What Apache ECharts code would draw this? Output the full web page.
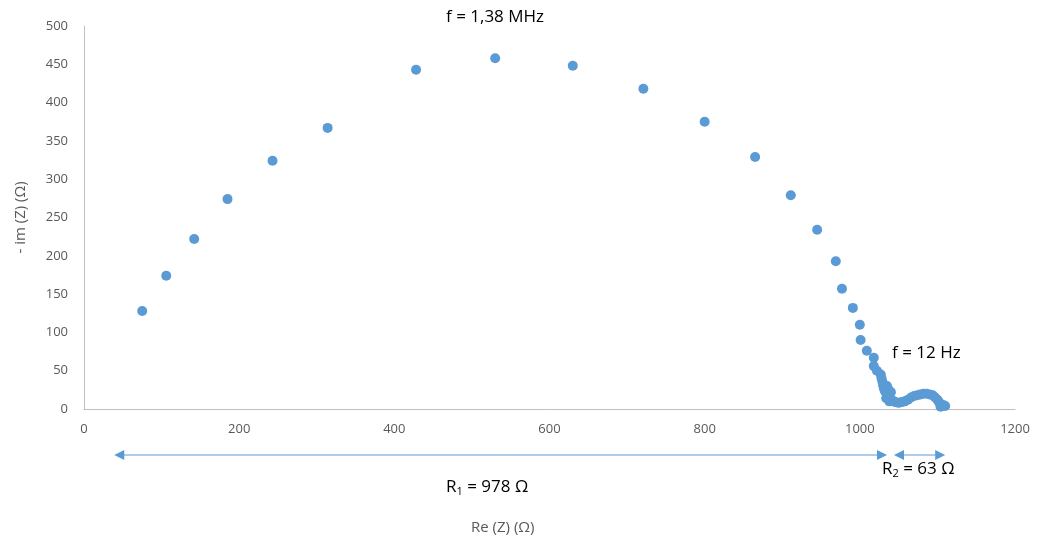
<!DOCTYPE html>
<html><head><meta charset="utf-8">
<script src="https://cdn.jsdelivr.net/npm/echarts@6/dist/echarts.min.js"></script>
<style>html,body{margin:0;padding:0;background:#fff}#c{width:1037px;height:545px}</style>
</head><body><div id="c"></div>
<script>
// Re(Z) values (Ω)
const reZ = [75,106,142,185,243,314,428,530,630,721,800,865,911,945,969,977,991,1000,1001,1009,1018,1018,
  1022,1027,1028,1029,1030,1031,1032,1034,1035,1037,1036,1038,1040,1034,1038,1041,1043,1046,1050,1054,1058,1062,
  1066,1070,1074,1078,1082,1086,1090,1094,1097,1100,1102,1105,1108,1104,1110];
// -Im(Z) values (Ω)
const imZ = [128,174,222,274,324,367,443,458,448,418,375,329,279,234,193,157,132,110,90,76,67,56,
  50,45,40,36,31,27,24,21,30,25,18,15,22,14,10,12,10,9,8,9,10,12,
  15,17,18,19,20,20,19,18,15,12,9,6,5,3,4];
const xTicks = {min:0, max:1200, interval:200};
const yTicks = {min:0, max:500, interval:50};
const r1Range = [39, 1035];
const r2Range = [1044, 1110];
const labels = {high:'f = 1,38 MHz', low:'f = 12 Hz', r1:'978 Ω', r2:'63 Ω', xName:'Re (Z) (Ω)', yName:'- im (Z) (Ω)'};

const FONT = "'Open Sans', 'Noto Sans', sans-serif";
const blue = '#5B9BD5';
const chart = echarts.init(document.getElementById('c'));
const pts = reZ.map((x,i)=>[x, imZ[i]]);
chart.setOption({
  animation:false,
  grid:{left:84, right:22, top:26, bottom:136},
  xAxis:{type:'value', min:xTicks.min, max:xTicks.max, interval:xTicks.interval,
    axisLine:{show:true, lineStyle:{color:'#BFBFBF', width:1}}, axisTick:{show:false}, splitLine:{show:false},
    axisLabel:{color:'#595959', fontSize:13, fontFamily:FONT, margin:14, formatter:v=>String(v)}},
  yAxis:{type:'value', min:yTicks.min, max:yTicks.max, interval:yTicks.interval,
    axisLine:{show:true, lineStyle:{color:'#BFBFBF', width:1}}, axisTick:{show:false}, splitLine:{show:false},
    axisLabel:{color:'#595959', fontSize:13, fontFamily:FONT, margin:16, formatter:v=>String(v)},
    name:labels.yName, nameLocation:'middle', nameGap:56, nameTextStyle:{color:'#595959', fontSize:15, fontFamily:FONT}},
  series:[{type:'scatter', data:pts, symbolSize:10, itemStyle:{color:blue, opacity:1}}]
});

function px(x){ return chart.convertToPixel({gridIndex:0},[x,0])[0]; }
const ay = 455;
function arrow(x1,x2){
  const a = px(x1), b = px(x2);
  return [
    {type:'line', shape:{x1:a+6,y1:ay,x2:b-6,y2:ay}, style:{stroke:blue, lineWidth:1}},
    {type:'polygon', shape:{points:[[a,ay],[a+10,ay-5],[a+10,ay+5]]}, style:{fill:blue}},
    {type:'polygon', shape:{points:[[b,ay],[b-10,ay-5],[b-10,ay+5]]}, style:{fill:blue}}
  ];
}
const rich = {t:{fontSize:17, fontFamily:FONT, color:'#000', lineHeight:22}, s:{fontSize:11, fontFamily:FONT, color:'#000', lineHeight:22, padding:[9,0,0,0]}};
chart.setOption({graphic:[
  ...arrow(r1Range[0], r1Range[1]),
  ...arrow(r2Range[0], r2Range[1]),
  {type:'text', left:446, top:9, style:{text:labels.high, fontSize:17, fontFamily:FONT, fill:'#000'}},
  {type:'text', left:892, top:345, style:{text:labels.low, fontSize:17, fontFamily:FONT, fill:'#000'}},
  {type:'text', left:446, top:477, style:{text:'{t|R}{s|1}{t| = '+labels.r1+'}', rich:rich}},
  {type:'text', left:882, top:459, style:{text:'{t|R}{s|2}{t| = '+labels.r2+'}', rich:rich}},
  {type:'text', left:471, top:520, style:{text:labels.xName, fontSize:15, fontFamily:FONT, fill:'#595959'}}
]});
</script></body></html>
